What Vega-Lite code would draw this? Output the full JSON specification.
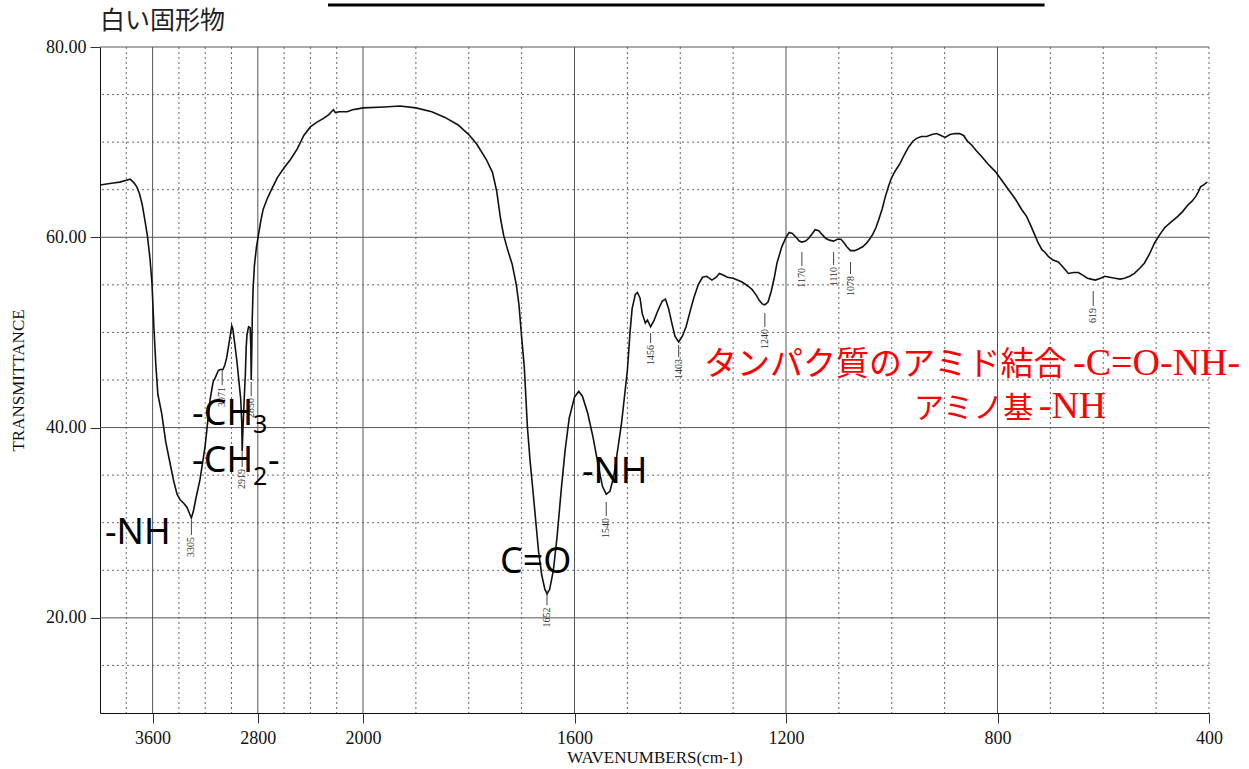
{
 "$schema": "https://vega.github.io/schema/vega-lite/v6.json",
 "width": 1109, "height": 666,
 "autosize": "none",
 "padding": {"left": 100, "top": 47, "right": 40, "bottom": 56},
 "background": "white",
 "config": {"view": {"stroke": null}, "axis": {"grid": false}},
 "datasets": {
  "spec": [
   {"wn":4000,"t":65.5},{"wn":3950,"t":65.6},{"wn":3900,"t":65.7},{"wn":3850,"t":65.8},{"wn":3800,"t":66.0},{"wn":3770,"t":66.1},{"wn":3740,"t":65.7},{"wn":3720,"t":65.3},{"wn":3700,"t":64.6},{"wn":3680,"t":63.5},{"wn":3660,"t":61.9},{"wn":3640,"t":60.2},{"wn":3620,"t":57.8},{"wn":3605,"t":55.2},{"wn":3590,"t":50.5},{"wn":3575,"t":46.5},{"wn":3560,"t":43.5},{"wn":3531,"t":41.5},{"wn":3500,"t":38.5},{"wn":3468,"t":36.3},{"wn":3440,"t":34.4},{"wn":3414,"t":33.0},{"wn":3390,"t":32.4},{"wn":3360,"t":32.0},{"wn":3338,"t":31.6},{"wn":3320,"t":31.0},{"wn":3305,"t":30.5},{"wn":3290,"t":31.2},{"wn":3270,"t":32.6},{"wn":3240,"t":34.5},{"wn":3220,"t":36.3},{"wn":3201,"t":38.0},{"wn":3163,"t":42.9},{"wn":3140,"t":44.8},{"wn":3125,"t":45.2},{"wn":3100,"t":46.0},{"wn":3087,"t":46.1},{"wn":3065,"t":46.1},{"wn":3050,"t":46.6},{"wn":3036,"t":47.4},{"wn":3015,"t":49.2},{"wn":2998,"t":50.7},{"wn":2990,"t":50.4},{"wn":2975,"t":48.8},{"wn":2960,"t":47.1},{"wn":2943,"t":44.8},{"wn":2930,"t":43.0},{"wn":2922,"t":40.5},{"wn":2919,"t":37.5},{"wn":2915,"t":39.0},{"wn":2905,"t":42.5},{"wn":2895,"t":45.5},{"wn":2888,"t":48.5},{"wn":2882,"t":49.8},{"wn":2870,"t":50.6},{"wn":2858,"t":50.5},{"wn":2853,"t":48.5},{"wn":2850,"t":45.0},{"wn":2846,"t":48.0},{"wn":2842,"t":51.5},{"wn":2836,"t":54.5},{"wn":2826,"t":57.0},{"wn":2810,"t":59.0},{"wn":2798,"t":60.0},{"wn":2780,"t":61.5},{"wn":2760,"t":62.9},{"wn":2730,"t":64.0},{"wn":2700,"t":64.9},{"wn":2650,"t":66.3},{"wn":2600,"t":67.3},{"wn":2550,"t":68.2},{"wn":2500,"t":69.3},{"wn":2450,"t":70.7},{"wn":2400,"t":71.6},{"wn":2350,"t":72.1},{"wn":2300,"t":72.5},{"wn":2260,"t":72.9},{"wn":2240,"t":73.2},{"wn":2225,"t":73.4},{"wn":2210,"t":73.1},{"wn":2180,"t":73.2},{"wn":2150,"t":73.2},{"wn":2120,"t":73.2},{"wn":2080,"t":73.4},{"wn":2040,"t":73.5},{"wn":2000,"t":73.6},{"wn":1960,"t":73.7},{"wn":1930,"t":73.8},{"wn":1900,"t":73.6},{"wn":1870,"t":73.2},{"wn":1845,"t":72.6},{"wn":1820,"t":71.8},{"wn":1800,"t":70.8},{"wn":1785,"t":69.8},{"wn":1767,"t":68.2},{"wn":1755,"t":66.8},{"wn":1747,"t":64.8},{"wn":1740,"t":62.0},{"wn":1734,"t":60.2},{"wn":1726,"t":58.6},{"wn":1718,"t":57.2},{"wn":1710,"t":55.0},{"wn":1705,"t":52.9},{"wn":1700,"t":49.5},{"wn":1695,"t":46.4},{"wn":1689,"t":40.0},{"wn":1684,"t":36.5},{"wn":1679,"t":33.6},{"wn":1673,"t":30.0},{"wn":1668,"t":27.0},{"wn":1662,"t":24.5},{"wn":1656,"t":23.0},{"wn":1652,"t":22.5},{"wn":1647,"t":23.0},{"wn":1640,"t":25.0},{"wn":1633,"t":28.5},{"wn":1625,"t":33.5},{"wn":1618,"t":37.5},{"wn":1610,"t":41.0},{"wn":1600,"t":43.2},{"wn":1592,"t":43.8},{"wn":1585,"t":43.3},{"wn":1575,"t":41.5},{"wn":1565,"t":39.0},{"wn":1555,"t":36.0},{"wn":1547,"t":33.8},{"wn":1540,"t":33.0},{"wn":1533,"t":33.3},{"wn":1526,"t":34.8},{"wn":1518,"t":37.8},{"wn":1511,"t":40.5},{"wn":1505,"t":43.5},{"wn":1500,"t":46.0},{"wn":1495,"t":50.0},{"wn":1491,"t":52.5},{"wn":1485,"t":54.0},{"wn":1481,"t":54.2},{"wn":1476,"t":53.6},{"wn":1472,"t":52.0},{"wn":1466,"t":51.0},{"wn":1462,"t":51.3},{"wn":1456,"t":50.6},{"wn":1450,"t":51.2},{"wn":1443,"t":52.2},{"wn":1434,"t":53.3},{"wn":1428,"t":53.5},{"wn":1422,"t":52.5},{"wn":1416,"t":51.0},{"wn":1410,"t":49.6},{"wn":1403,"t":49.0},{"wn":1396,"t":49.6},{"wn":1389,"t":50.6},{"wn":1380,"t":52.5},{"wn":1374,"t":53.7},{"wn":1366,"t":55.0},{"wn":1358,"t":55.8},{"wn":1350,"t":55.9},{"wn":1340,"t":55.5},{"wn":1332,"t":55.8},{"wn":1326,"t":56.2},{"wn":1318,"t":56.0},{"wn":1311,"t":55.8},{"wn":1300,"t":55.7},{"wn":1283,"t":55.3},{"wn":1270,"t":54.8},{"wn":1264,"t":54.5},{"wn":1256,"t":53.9},{"wn":1251,"t":53.4},{"wn":1245,"t":53.0},{"wn":1240,"t":52.9},{"wn":1234,"t":53.2},{"wn":1228,"t":54.3},{"wn":1222,"t":55.8},{"wn":1217,"t":57.3},{"wn":1208,"t":59.0},{"wn":1200,"t":60.0},{"wn":1194,"t":60.5},{"wn":1188,"t":60.4},{"wn":1181,"t":60.0},{"wn":1175,"t":59.6},{"wn":1170,"t":59.5},{"wn":1163,"t":59.6},{"wn":1157,"t":59.9},{"wn":1150,"t":60.4},{"wn":1145,"t":60.8},{"wn":1138,"t":60.7},{"wn":1132,"t":60.3},{"wn":1125,"t":59.9},{"wn":1118,"t":59.7},{"wn":1110,"t":59.6},{"wn":1103,"t":59.8},{"wn":1096,"t":59.8},{"wn":1090,"t":59.4},{"wn":1085,"t":59.0},{"wn":1078,"t":58.6},{"wn":1070,"t":58.6},{"wn":1062,"t":58.8},{"wn":1055,"t":59.0},{"wn":1049,"t":59.3},{"wn":1042,"t":59.8},{"wn":1036,"t":60.3},{"wn":1030,"t":61.0},{"wn":1025,"t":61.8},{"wn":1018,"t":63.0},{"wn":1012,"t":64.3},{"wn":1006,"t":65.4},{"wn":1000,"t":66.3},{"wn":992,"t":67.1},{"wn":984,"t":67.8},{"wn":976,"t":68.7},{"wn":968,"t":69.5},{"wn":960,"t":70.1},{"wn":953,"t":70.4},{"wn":944,"t":70.6},{"wn":934,"t":70.6},{"wn":924,"t":70.8},{"wn":915,"t":70.9},{"wn":907,"t":70.7},{"wn":899,"t":70.5},{"wn":890,"t":70.8},{"wn":880,"t":70.9},{"wn":872,"t":70.9},{"wn":864,"t":70.7},{"wn":857,"t":70.1},{"wn":849,"t":69.7},{"wn":840,"t":69.1},{"wn":830,"t":68.5},{"wn":818,"t":67.7},{"wn":804,"t":66.9},{"wn":792,"t":66.0},{"wn":779,"t":65.0},{"wn":766,"t":64.0},{"wn":754,"t":62.9},{"wn":745,"t":62.2},{"wn":736,"t":61.1},{"wn":730,"t":60.3},{"wn":723,"t":59.4},{"wn":716,"t":58.7},{"wn":710,"t":58.4},{"wn":704,"t":58.0},{"wn":695,"t":57.6},{"wn":685,"t":57.4},{"wn":675,"t":56.8},{"wn":666,"t":56.2},{"wn":656,"t":56.3},{"wn":647,"t":56.3},{"wn":638,"t":56.0},{"wn":630,"t":55.7},{"wn":623,"t":55.6},{"wn":615,"t":55.5},{"wn":605,"t":55.7},{"wn":597,"t":55.9},{"wn":588,"t":55.8},{"wn":578,"t":55.7},{"wn":568,"t":55.6},{"wn":560,"t":55.7},{"wn":550,"t":55.9},{"wn":541,"t":56.2},{"wn":530,"t":56.8},{"wn":522,"t":57.3},{"wn":512,"t":58.3},{"wn":503,"t":59.4},{"wn":494,"t":60.2},{"wn":484,"t":61.0},{"wn":472,"t":61.6},{"wn":459,"t":62.2},{"wn":450,"t":62.7},{"wn":440,"t":63.4},{"wn":432,"t":63.8},{"wn":425,"t":64.3},{"wn":420,"t":64.8},{"wn":416,"t":65.3},{"wn":410,"t":65.5},{"wn":406,"t":65.7},{"wn":403,"t":65.8}
  ],
  "peaks": [
   {"wn":3305,"t1":30.28,"t2":28.71,"tt":28.5,"label":"3305"},
   {"wn":3071,"t1":46.05,"t2":44.47,"tt":44.26,"label":"3071"},
   {"wn":2919,"t1":37.43,"t2":35.85,"tt":35.64,"label":"2919"},
   {"wn":2850,"t1":44.79,"t2":43.32,"tt":43.11,"label":"2850"},
   {"wn":1652,"t1":22.89,"t2":21.32,"tt":21.1,"label":"1652"},
   {"wn":1540,"t1":32.18,"t2":30.7,"tt":30.49,"label":"1540"},
   {"wn":1456,"t1":49.94,"t2":48.89,"tt":48.68,"label":"1456"},
   {"wn":1403,"t1":48.68,"t2":47.42,"tt":47.21,"label":"1403"},
   {"wn":1240,"t1":52.04,"t2":50.57,"tt":50.36,"label":"1240"},
   {"wn":1170,"t1":58.45,"t2":56.98,"tt":56.77,"label":"1170"},
   {"wn":1110,"t1":58.45,"t2":57.09,"tt":56.88,"label":"1110"},
   {"wn":1078,"t1":57.4,"t2":56.14,"tt":55.93,"label":"1078"},
   {"wn":619,"t1":54.35,"t2":52.78,"tt":52.57,"label":"619"}
  ]
 },
 "layer": [
  {
   "data": {"values": [{"wn":3800},{"wn":3400},{"wn":3200},{"wn":3000},{"wn":2600},{"wn":2400},{"wn":2200},{"wn":1900},{"wn":1800},{"wn":1700},{"wn":1500},{"wn":1400},{"wn":1300},{"wn":1100},{"wn":1000},{"wn":900},{"wn":700},{"wn":600},{"wn":500},{"wn":400}]},
   "mark": {"type": "rule", "color": "#666", "strokeWidth": 1, "strokeDash": [2, 3]},
   "encoding": {"x": {"field": "wn", "type": "quantitative", "scale": {"domain": [4000, 2000, 400], "range": [0, 263, 1109], "nice": false, "zero": false}}}
  },
  {
   "data": {"values": [{"t":15},{"t":25},{"t":30},{"t":35},{"t":45},{"t":50},{"t":55},{"t":65},{"t":70},{"t":75}]},
   "mark": {"type": "rule", "color": "#666", "strokeWidth": 1, "strokeDash": [2, 3]},
   "encoding": {"y": {"field": "t", "type": "quantitative", "scale": {"domain": [10, 80], "nice": false, "zero": false}}}
  },
  {
   "data": {"values": [{"wn":3600},{"wn":2800},{"wn":2000},{"wn":1600},{"wn":1200},{"wn":800}]},
   "mark": {"type": "rule", "color": "#555", "strokeWidth": 1},
   "encoding": {"x": {"field": "wn", "type": "quantitative", "scale": {"domain": [4000, 2000, 400], "range": [0, 263, 1109], "nice": false, "zero": false}}}
  },
  {
   "data": {"values": [{"t":20},{"t":40},{"t":60},{"t":80}]},
   "mark": {"type": "rule", "color": "#555", "strokeWidth": 1},
   "encoding": {"y": {"field": "t", "type": "quantitative", "scale": {"domain": [10, 80], "nice": false, "zero": false}}}
  },
  {
   "data": {"name": "spec"},
   "mark": {"type": "line", "color": "#111", "strokeWidth": 1.6, "clip": true},
   "encoding": {
    "x": {"field": "wn", "type": "quantitative", "scale": {"domain": [4000, 2000, 400], "range": [0, 263, 1109], "nice": false, "zero": false},
      "axis": {"values": [3600, 2800, 2000, 1600, 1200, 800, 400], "format": "d", "title": "WAVENUMBERS(cm-1)", "labelFont": "Liberation Serif", "labelFontSize": 18, "labelColor": "#111", "tickSize": 10, "tickColor": "#333", "labelPadding": 6, "domainColor": "#111", "titleFont": "Liberation Serif", "titleFontSize": 17, "titleFontWeight": "normal", "titleColor": "#111", "titlePadding": 2, "labelFlush": false, "labelOverlap": false}},
    "y": {"field": "t", "type": "quantitative", "scale": {"domain": [10, 80], "nice": false, "zero": false},
      "axis": {"values": [80, 60, 40, 20], "format": ".2f", "title": "TRANSMITTANCE", "labelFont": "Liberation Serif", "labelFontSize": 18, "labelColor": "#111", "tickSize": 10, "tickColor": "#333", "labelPadding": 4, "domainColor": "#111", "titleFont": "Liberation Serif", "titleFontSize": 17, "titleFontWeight": "normal", "titleColor": "#111", "titlePadding": 18}}
   }
  },
  {
   "data": {"name": "peaks"},
   "mark": {"type": "rule", "color": "#444", "strokeWidth": 1},
   "encoding": {"x": {"field": "wn", "type": "quantitative"}, "y": {"field": "t1", "type": "quantitative"}, "y2": {"field": "t2"}}
  },
  {
   "data": {"name": "peaks"},
   "mark": {"type": "text", "angle": 270, "align": "right", "baseline": "middle", "font": "Liberation Serif", "fontSize": 10, "color": "#333"},
   "encoding": {"x": {"field": "wn", "type": "quantitative"}, "y": {"field": "tt", "type": "quantitative"}, "text": {"field": "label"}}
  },
  {
   "data": {"values": [{"wn":3962,"t":27.76,"label":"-NH"},{"wn":3300,"t":40.27,"label":"-CH"},{"wn":3300,"t":35.33,"label":"-CH"},{"wn":2722,"t":35.33,"label":"-"},{"wn":1741,"t":24.71,"label":"C=O"},{"wn":1586,"t":34.17,"label":"-NH"}]},
   "mark": {"type": "text", "align": "left", "baseline": "alphabetic", "font": "Noto Sans", "fontSize": 36, "color": "#000"},
   "encoding": {"x": {"field": "wn", "type": "quantitative"}, "y": {"field": "t", "type": "quantitative"}, "text": {"field": "label"}}
  },
  {
   "data": {"values": [{"wn":2836,"t":39.43,"label":"3"},{"wn":2836,"t":33.96,"label":"2"}]},
   "mark": {"type": "text", "align": "left", "baseline": "alphabetic", "font": "Noto Sans", "fontSize": 25, "color": "#000"},
   "encoding": {"x": {"field": "wn", "type": "quantitative"}, "y": {"field": "t", "type": "quantitative"}, "text": {"field": "label"}}
  },
  {
   "data": {"values": [{"wn":1355,"t":45.52,"label":"タンパク質のアミド結合"}]},
   "mark": {"type": "text", "align": "left", "baseline": "alphabetic", "font": "Noto Sans CJK JP", "fontSize": 33, "color": "#ff0000"},
   "encoding": {"x": {"field": "wn", "type": "quantitative"}, "y": {"field": "t", "type": "quantitative"}, "text": {"field": "label"}}
  },
  {
   "data": {"values": [{"wn":958,"t":41.0,"label":"アミノ基"}]},
   "mark": {"type": "text", "align": "left", "baseline": "alphabetic", "font": "Noto Sans CJK JP", "fontSize": 30, "color": "#ff0000"},
   "encoding": {"x": {"field": "wn", "type": "quantitative"}, "y": {"field": "t", "type": "quantitative"}, "text": {"field": "label"}}
  },
  {
   "data": {"values": [{"wn":341,"t":45.52,"label":"-C=O-NH-"}]},
   "mark": {"type": "text", "align": "right", "baseline": "alphabetic", "font": "Liberation Serif", "fontSize": 38, "color": "#ff0000"},
   "encoding": {"x": {"field": "wn", "type": "quantitative"}, "y": {"field": "t", "type": "quantitative"}, "text": {"field": "label"}}
  },
  {
   "data": {"values": [{"wn":722,"t":41.0,"label":"-NH"}]},
   "mark": {"type": "text", "align": "left", "baseline": "alphabetic", "font": "Liberation Serif", "fontSize": 38, "color": "#ff0000"},
   "encoding": {"x": {"field": "wn", "type": "quantitative"}, "y": {"field": "t", "type": "quantitative"}, "text": {"field": "label"}}
  },
  {
   "data": {"values": [{"wn":4000,"t":81.89,"label":"白い固形物"}]},
   "mark": {"type": "text", "align": "left", "baseline": "alphabetic", "font": "Noto Sans CJK JP", "fontSize": 25, "color": "#222"},
   "encoding": {"x": {"field": "wn", "type": "quantitative"}, "y": {"field": "t", "type": "quantitative"}, "text": {"field": "label"}}
  },
  {
   "data": {"values": [{"wn":2266,"wn2":711,"t":84.41}]},
   "mark": {"type": "rule", "color": "#000", "strokeWidth": 3},
   "encoding": {"x": {"field": "wn", "type": "quantitative"}, "x2": {"field": "wn2"}, "y": {"field": "t", "type": "quantitative"}}
  }
 ]
}
